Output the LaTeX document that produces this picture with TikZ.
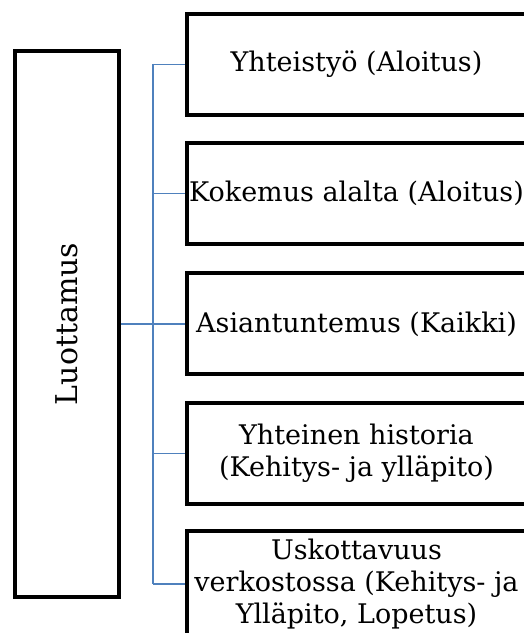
\documentclass[tikz,border=0pt]{standalone}
\usepackage{fontspec}
\setmainfont{DejaVu Serif}
\definecolor{linkblue}{HTML}{4F81BD}
\tikzset{
  stagebox/.style={draw=black, line width=4pt, fill=white, inner sep=0pt,
    minimum width=339pt, minimum height=101pt, align=center,
    font=\fontsize{27}{32}\selectfont},
  rootbox/.style={draw=black, line width=4pt, fill=white, inner sep=0pt,
    minimum width=104pt, minimum height=546pt},
  link/.style={draw=linkblue, line width=1.2pt}
}
\begin{document}
\begin{tikzpicture}[x=1pt,y=1pt]
  \useasboundingbox (0,0) rectangle (524,633);
  \begin{scope}
    \clip (0,0) rectangle (524,633);
    % root
    \node[rootbox] (root) at (67,309) {};
    \node[rotate=90, font=\fontsize{30}{36}\selectfont] (rootlabel) at (root.center) {Luottamus};
    % trunk coordinates
    \coordinate (trunktop) at (153,569);
    \coordinate (trunkbot) at (153,49);
    % stage boxes
    \node[stagebox] (s1) at (356.5,568.5) {Yhteistyö (Aloitus)};
    \node[stagebox] (s2) at (356.5,439.5) {Kokemus alalta (Aloitus)};
    \node[stagebox] (s3) at (356.5,309) {Asiantuntemus (Kaikki)};
    \node[stagebox] (s4) at (356.5,179.5) {Yhteinen historia\\(Kehitys- ja ylläpito)};
    \node[stagebox, minimum height=106pt] (s5) at (356.5,49) {Uskottavuus\\verkostossa (Kehitys- ja\\Ylläpito, Lopetus)};
    % connectors
    \draw[link] (trunktop) -- (trunkbot);
    \draw[link] (root.east) -- (s3.west);
    \foreach \s in {s1,s2,s4,s5}
      \draw[link] (\s.west -| trunktop) -- (\s.west);
  \end{scope}
\end{tikzpicture}
\end{document}
